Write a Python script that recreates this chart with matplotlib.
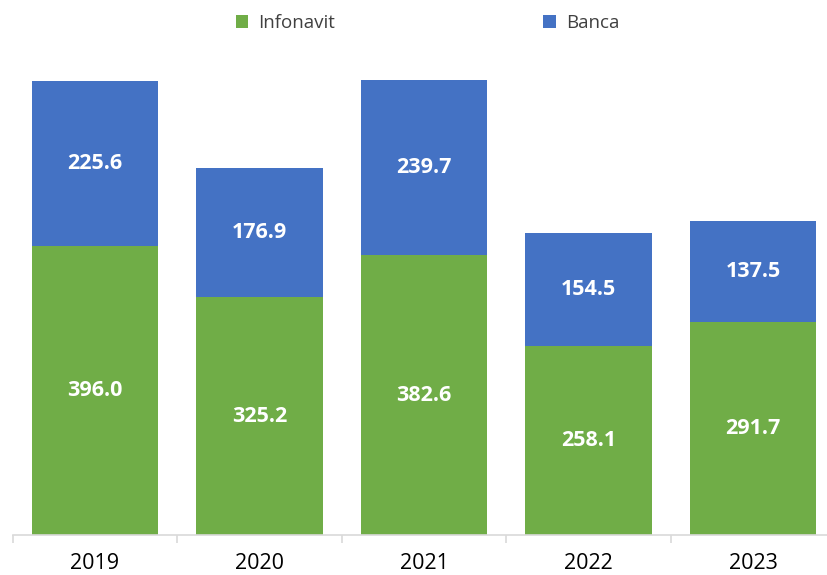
import matplotlib.pyplot as plt
import numpy as np

years = ["2019", "2020", "2021", "2022", "2023"]
infonavit = [396.0, 325.2, 382.6, 258.1, 291.7]
banca = [225.6, 176.9, 239.7, 154.5, 137.5]

GREEN = "#70AD47"
BLUE = "#4472C4"

plt.rcParams['font.family'] = ['Open Sans', 'DejaVu Sans']

fig = plt.figure(figsize=(8.27, 5.75), dpi=100)
ax = fig.add_axes([12.75 / 827, 40 / 575, 822.5 / 827, 475 / 575])

x = np.arange(len(years))
width = 0.766
b1 = ax.bar(x, infonavit, width, color=GREEN, label="Infonavit")
b2 = ax.bar(x, banca, width, bottom=infonavit, color=BLUE, label="Banca")

for i in range(len(years)):
    ax.text(x[i], infonavit[i] / 2, f"{infonavit[i]:.1f}", ha="center", va="center",
            color="white", fontsize=15.5, fontweight="bold")
    ax.text(x[i], infonavit[i] + banca[i] / 2, f"{banca[i]:.1f}", ha="center", va="center",
            color="white", fontsize=15.5, fontweight="bold")

ax.set_xlim(-0.5, len(years) - 0.5)
ax.set_ylim(0, 650)

for s in ["top", "right", "left"]:
    ax.spines[s].set_visible(False)
ax.spines["bottom"].set_color("#D9D9D9")
ax.spines["bottom"].set_linewidth(1.2)
ax.spines["bottom"].set_clip_on(False)

ax.set_yticks([])
ax.set_xticks(np.arange(-0.5, len(years) - 0.5))
ax.set_xticklabels([])
ax.tick_params(axis="x", which="major", length=6, color="#D9D9D9", width=1.2)
ax.set_xticks(x, minor=True)
ax.set_xticklabels(years, minor=True)
ax.tick_params(axis="x", which="minor", length=0, labelsize=15.5, pad=13, labelcolor="black")

fig.legend(handles=[b1, b2], labels=["Infonavit", "Banca"], loc="center",
           bbox_to_anchor=(0.517, 1 - 23 / 575), ncol=2, frameon=False, fontsize=13.5,
           labelcolor="#404040", handlelength=0.65, handleheight=0.65,
           columnspacing=11.1, handletextpad=0.55)

fig.savefig("out.png", dpi=100)
